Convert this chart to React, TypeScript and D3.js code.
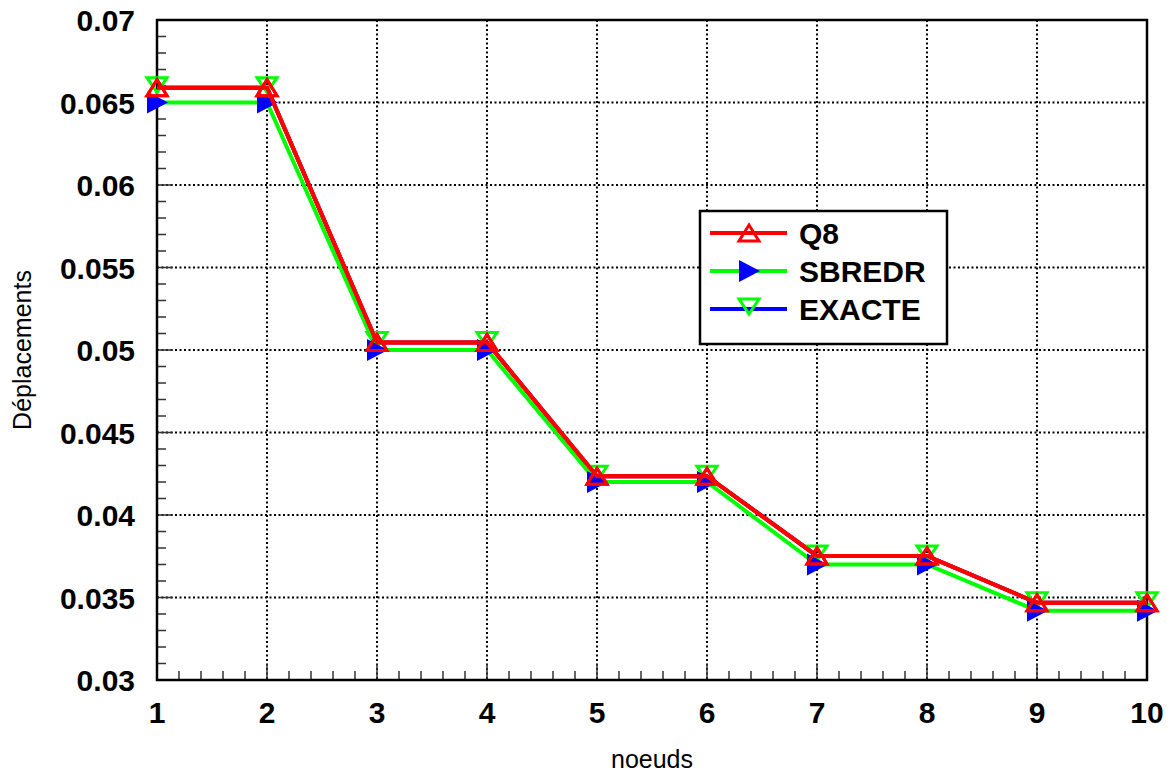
import React, { useEffect, useRef } from 'react';
import * as d3 from 'd3';

// noeuds 1..10
const noeuds = [1, 2, 3, 4, 5, 6, 7, 8, 9, 10];
const q8 = [0.0659, 0.0659, 0.05045, 0.05045, 0.04235, 0.04235, 0.03752, 0.03752, 0.03468, 0.03468];
const sbredr = [0.065, 0.065, 0.05, 0.05, 0.042, 0.042, 0.037, 0.037, 0.0342, 0.0342];
const exacte = [0.0659, 0.0659, 0.05045, 0.05045, 0.04235, 0.04235, 0.03752, 0.03752, 0.03468, 0.03468];
const yTicks = [0.03, 0.035, 0.04, 0.045, 0.05, 0.055, 0.06, 0.065, 0.07];
const legendNames = ['Q8', 'SBREDR', 'EXACTE'];

const W = 1175, H = 773;
const margin = { top: 20, right: 28, bottom: 93, left: 157 };

export default function App() {
  const ref = useRef<SVGSVGElement>(null);

  useEffect(() => {
    const svg = d3.select(ref.current);
    svg.selectAll('*').remove();

    const width = W - margin.left - margin.right;
    const height = H - margin.top - margin.bottom;

    const x = d3.scaleLinear().domain([1, 10]).range([0, width]);
    const y = d3.scaleLinear().domain([0.03, 0.07]).range([height, 0]);

    const g = svg.append('g').attr('transform', `translate(${margin.left},${margin.top})`);
    const font = 'Liberation Sans, Arial, Helvetica, sans-serif';

    // grid
    g.selectAll('.vgrid').data(noeuds.slice(1, -1)).enter().append('line')
      .attr('x1', d => x(d)).attr('x2', d => x(d))
      .attr('y1', 0).attr('y2', height)
      .attr('stroke', '#000').attr('stroke-width', 2).attr('stroke-dasharray', '2,2.5');
    g.selectAll('.hgrid').data(yTicks.slice(1, -1)).enter().append('line')
      .attr('y1', d => y(d)).attr('y2', d => y(d))
      .attr('x1', 0).attr('x2', width)
      .attr('stroke', '#000').attr('stroke-width', 2).attr('stroke-dasharray', '2,2.5');

    // minor/major ticks inside the frame
    const xMinor = d3.range(1, 10.001, 0.2);
    g.selectAll('.xt').data(xMinor).enter().append('line')
      .attr('x1', d => x(d)).attr('x2', d => x(d))
      .attr('y1', height)
      .attr('y2', (d, i) => height - (i % 5 === 0 ? 16 : 9))
      .attr('stroke', '#333').attr('stroke-width', 1.5);
    const yMinor = d3.range(0.03, 0.07001, 0.001);
    g.selectAll('.yt').data(yMinor).enter().append('line')
      .attr('y1', d => y(d)).attr('y2', d => y(d))
      .attr('x1', 0)
      .attr('x2', (d, i) => (i % 5 === 0 ? 16 : 9))
      .attr('stroke', '#333').attr('stroke-width', 1.5);

    // frame
    g.append('rect').attr('width', width).attr('height', height)
      .attr('fill', 'none').attr('stroke', '#000').attr('stroke-width', 2.5);

    // tick labels
    g.selectAll('.xl').data(noeuds).enter().append('text')
      .attr('x', d => x(d)).attr('y', height + 43)
      .attr('text-anchor', 'middle')
      .attr('font-family', font).attr('font-weight', 'bold').attr('font-size', 30)
      .text(d => d);
    g.selectAll('.yl').data(yTicks).enter().append('text')
      .attr('x', -22).attr('y', d => y(d) + 11)
      .attr('text-anchor', 'end')
      .attr('font-family', font).attr('font-weight', 'bold').attr('font-size', 30)
      .text(d => String(+d.toFixed(3)));

    // axis titles
    svg.append('text')
      .attr('x', margin.left + width / 2).attr('y', 768)
      .attr('text-anchor', 'middle')
      .attr('font-family', font).attr('font-size', 25)
      .text('noeuds');
    svg.append('text')
      .attr('transform', `translate(31,${margin.top + height / 2}) rotate(-90)`)
      .attr('text-anchor', 'middle')
      .attr('font-family', font).attr('font-size', 25)
      .text('Déplacements');

    const line = d3.line<number>().x((d, i) => x(noeuds[i])).y(d => y(d));

    const series = [
      { name: 'EXACTE', data: exacte, lineColor: '#0000ff', marker: 'down' },
      { name: 'SBREDR', data: sbredr, lineColor: '#00ff00', marker: 'right' },
      { name: 'Q8', data: q8, lineColor: '#ff0000', marker: 'up' }
    ];

    const drawMarker = (sel: any, kind: string) => {
      if (kind === 'up') {
        sel.append('path').attr('d', 'M0,-8L10,8L-10,8Z')
          .attr('fill', 'none').attr('stroke', '#ff0000').attr('stroke-width', 3)
          .attr('stroke-linejoin', 'miter');
      } else if (kind === 'down') {
        sel.append('path').attr('d', 'M-10,-10L10,-10L0,5Z')
          .attr('fill', 'none').attr('stroke', '#00ff00').attr('stroke-width', 3);
      } else {
        sel.append('path').attr('d', 'M-10,-11L11,0L-10,11Z').attr('fill', '#0000ff');
      }
    };

    series.forEach(s => {
      g.append('path').datum(s.data).attr('d', line)
        .attr('fill', 'none').attr('stroke', s.lineColor).attr('stroke-width', 4);
    });
    series.forEach(s => {
      const m = g.selectAll('.m-' + s.name).data(s.data).enter().append('g')
        .attr('transform', (d, i) => `translate(${x(noeuds[i])},${y(d)})`);
      drawMarker(m, s.marker);
    });
    // red line stays on top of lower markers
    g.append('path').datum(q8).attr('d', line)
      .attr('fill', 'none').attr('stroke', '#ff0000').attr('stroke-width', 4);
    const mq = g.selectAll('.mq').data(q8).enter().append('g')
      .attr('transform', (d, i) => `translate(${x(noeuds[i])},${y(d)})`);
    drawMarker(mq, 'up');

    // legend
    const lg = svg.append('g').attr('transform', 'translate(700,211)');
    lg.append('rect').attr('width', 247).attr('height', 133)
      .attr('fill', '#fff').attr('stroke', '#000').attr('stroke-width', 2.5);
    const legendColors = [
      { line: '#ff0000', marker: 'up' },
      { line: '#00ff00', marker: 'right' },
      { line: '#0000ff', marker: 'down' }
    ];
    legendNames.forEach((name, i) => {
      const row = lg.append('g').attr('transform', `translate(0,${22 + i * 38})`);
      row.append('line').attr('x1', 10).attr('x2', 87)
        .attr('stroke', legendColors[i].line).attr('stroke-width', 4);
      const mk = row.append('g').attr('transform', 'translate(49,0)');
      drawMarker(mk, legendColors[i].marker);
      row.append('text').attr('x', 99).attr('y', 11)
        .attr('font-family', font).attr('font-weight', 'bold').attr('font-size', 30)
        .text(name);
    });
  }, []);

  return (
    <svg ref={ref} width={W} height={H}
      style={{ position: 'absolute', left: 0, top: 0, background: '#fff' }} />
  );
}
